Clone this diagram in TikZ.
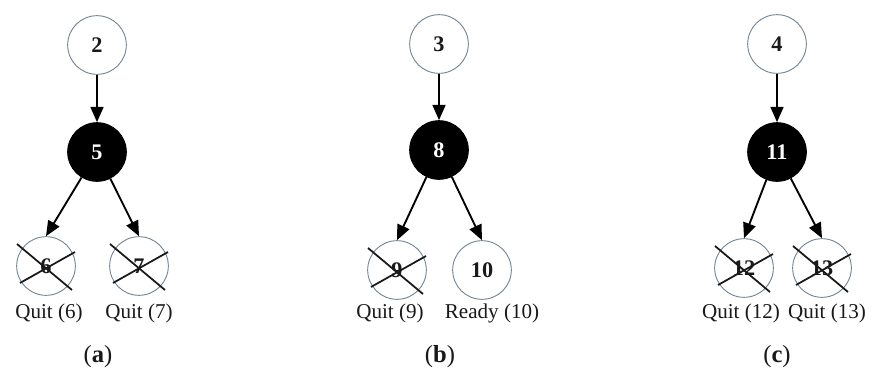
\documentclass[tikz,border=0pt]{standalone}
\usepackage{fontspec}
\setmainfont{Liberation Serif}
\usetikzlibrary{arrows.meta}
\definecolor{myedge}{RGB}{120,135,150}
\definecolor{mydark}{RGB}{25,25,25}
\tikzset{
  statenode/.style={circle, draw=myedge, fill=white, line width=0.8pt,
    minimum size=1.76cm, inner sep=0pt,
    font=\fontsize{19}{21}\selectfont\bfseries, text=mydark},
  blacknode/.style={statenode, draw=black, fill=black, text=white},
  arrow/.style={-{Triangle[length=13pt, width=11pt]}, line width=1.6pt, color=black},
  crossline/.style={line width=1.5pt, color=mydark},
  tag/.style={font=\fontsize{18}{20}\selectfont, color=mydark},
  caption/.style={font=\fontsize{21}{24}\selectfont, color=mydark}
}

\begin{document}
\begin{tikzpicture}[x=0.03cm, y=-0.03cm]
  \useasboundingbox[fill=white] (0,0) rectangle (879,385);

  % Tree (a)
  \node[statenode] (n2) at (97,45) {2};
  \node[blacknode] (n5) at (97,152) {5};
  \node[statenode] (n6) at (46,266) {6};
  \node[statenode] (n7) at (139,266) {7};
  \draw[arrow] (n2) -- (n5);
  \draw[arrow] (n5) -- (n6.north);
  \draw[arrow] (n5) -- (n7.north);
  \node[tag] (q6) at (49,313) {Quit (6)};
  \node[tag] (q7) at (139,313) {Quit (7)};
  \node[caption] (capa) at (98,357) {(\textbf{a})};

  % Tree (b)
  \node[statenode] (n3) at (439,44) {3};
  \node[blacknode] (n8) at (439,150) {8};
  \node[statenode] (n9) at (397,270) {9};
  \node[statenode] (n10) at (482,270) {10};
  \draw[arrow] (n3) -- (n8);
  \draw[arrow] (n8) -- (n9.north);
  \draw[arrow] (n8) -- (n10.north);
  \node[tag] (q9) at (390,313) {Quit (9)};
  \node[tag] (r10) at (492,313) {Ready (10)};
  \node[caption] (capb) at (440,357) {(\textbf{b})};

  % Tree (c)
  \node[statenode] (n4) at (777,44) {4};
  \node[blacknode] (n11) at (777,152) {11};
  \node[statenode] (n12) at (744,268) {12};
  \node[statenode] (n13) at (822,268) {13};
  \draw[arrow] (n4) -- (n11);
  \draw[arrow] (n11) -- (n12.north);
  \draw[arrow] (n11) -- (n13.north);
  \node[tag] (q12) at (741,313) {Quit (12)};
  \node[tag] (q13) at (827,313) {Quit (13)};
  \node[caption] (capc) at (777,357) {(\textbf{c})};

  % strike out the nodes that quit
  \foreach \n in {n6,n7,n9,n12,n13} {
    \draw[crossline] ([shift={(-29,-22)}]\n.center) -- ([shift={(26,24)}]\n.center);
    \draw[crossline] ([shift={(-26,17)}]\n.center) -- ([shift={(29,-14)}]\n.center);
  }
\end{tikzpicture}
\end{document}
